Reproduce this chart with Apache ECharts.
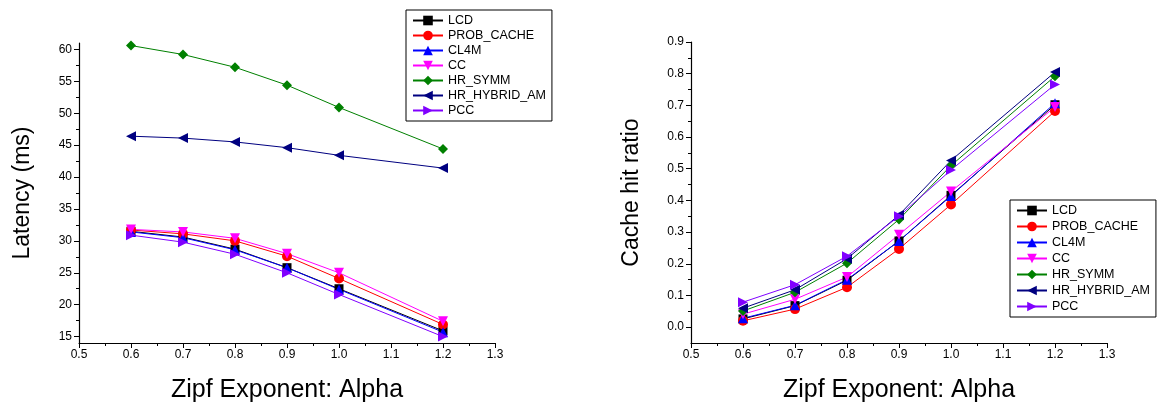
<!DOCTYPE html>
<html>
<head>
<meta charset="utf-8">
<script src="https://cdn.jsdelivr.net/npm/echarts@6/dist/echarts.min.js"></script>
<style>
  html, body { margin: 0; padding: 0; background: #fff; }
  #chart { width: 1161px; height: 408px; }
</style>
</head>
<body>
<div id="chart"></div>
<script>
// Zipf alpha values (x)
var alpha = [0.6, 0.7, 0.8, 0.9, 1.0, 1.2];

var names = ["LCD", "PROB_CACHE", "CL4M", "CC", "HR_SYMM", "HR_HYBRID_AM", "PCC"];

// latency (ms), left chart
var latLCD = [31.5, 30.6, 28.7, 25.8, 22.5, 15.9];
var latPROB = [31.7, 31.1, 30.0, 27.6, 24.1, 16.9];
var latCL4M = [31.4, 30.5, 28.6, 25.8, 22.4, 15.7];
var latCC = [31.8, 31.4, 30.4, 28.0, 25.0, 17.4];
var latSYMM = [60.6, 59.2, 57.2, 54.4, 50.9, 44.4];
var latHYBRID = [46.4, 46.1, 45.5, 44.6, 43.4, 41.4];
var latPCC = [30.9, 29.8, 27.9, 25.0, 21.6, 15.0];

// cache hit ratio, right chart
var hitLCD = [0.026, 0.068, 0.148, 0.272, 0.416, 0.702];
var hitPROB = [0.020, 0.057, 0.126, 0.247, 0.387, 0.682];
var hitCL4M = [0.028, 0.069, 0.150, 0.272, 0.414, 0.707];
var hitCC = [0.041, 0.088, 0.158, 0.292, 0.428, 0.695];
var hitSYMM = [0.051, 0.110, 0.202, 0.340, 0.510, 0.792];
var hitHYBRID = [0.060, 0.118, 0.216, 0.354, 0.526, 0.805];
var hitPCC = [0.079, 0.134, 0.224, 0.350, 0.496, 0.766];

// tick positions
var xTicks = [0.5, 0.6, 0.7, 0.8, 0.9, 1.0, 1.1, 1.2, 1.3];
var xMinor = [0.55, 0.65, 0.75, 0.85, 0.95, 1.05, 1.15, 1.25];
var latTicks = [15, 20, 25, 30, 35, 40, 45, 50, 55, 60];
var latMinor = [17.5, 22.5, 27.5, 32.5, 37.5, 42.5, 47.5, 52.5, 57.5];
var hitTicks = [0, 0.1, 0.2, 0.3, 0.4, 0.5, 0.6, 0.7, 0.8, 0.9];
var hitMinor = [0.05, 0.15, 0.25, 0.35, 0.45, 0.55, 0.65, 0.75, 0.85];

var colors = ["#000000", "#ff0000", "#0000ff", "#ff00ff", "#008000", "#000080", "#8000ff"];
var symbols = ["rect", "circle", "triangle", "triangle", "diamond", "triangle", "triangle"];
var rotates = [0, 0, 0, 180, 0, 90, -90];
var sizes = [9, 10, 10, 10, 10, 10, 10];

var latData = [latLCD, latPROB, latCL4M, latCC, latSYMM, latHYBRID, latPCC];
var hitData = [hitLCD, hitPROB, hitCL4M, hitCC, hitSYMM, hitHYBRID, hitPCC];

var font = "Liberation Sans, Arial, sans-serif";

function pairs(ys) {
    var out = [];
    for (var i = 0; i < alpha.length; i++) out.push([alpha[i], ys[i]]);
    return out;
}

function xAx(grid, minor) {
    return {
        type: "value", gridIndex: grid, min: 0.5, max: 1.3, position: "bottom",
        name: minor ? "" : "Zipf Exponent: Alpha",
        nameLocation: "middle", nameGap: 35,
        nameTextStyle: { fontFamily: font, fontSize: 25, color: "#000" },
        axisLine: { show: !minor, onZero: false, lineStyle: { color: "#000", width: 1.2 } },
        axisTick: { show: true, length: minor ? 3 : 5, customValues: minor ? xMinor : xTicks, lineStyle: { color: "#000" } },
        axisLabel: {
            show: !minor, customValues: xTicks, margin: 6, fontFamily: font, fontSize: 12, color: "#000",
            formatter: function (v) { return v.toFixed(1); }
        },
        splitLine: { show: false }
    };
}

function yAx(grid, minor, min, max, ticks, minors, label, gap, dec) {
    return {
        type: "value", gridIndex: grid, min: min, max: max, position: "left",
        name: minor ? "" : label,
        nameLocation: "middle", nameGap: gap,
        nameTextStyle: { fontFamily: font, fontSize: 23, color: "#000" },
        axisLine: { show: !minor, onZero: false, lineStyle: { color: "#000", width: 1.2 } },
        axisTick: { show: true, length: minor ? 3 : 5, customValues: minor ? minors : ticks, lineStyle: { color: "#000" } },
        axisLabel: {
            show: !minor, customValues: ticks, margin: 7, fontFamily: font, fontSize: 12, color: "#000",
            formatter: function (v) { return v.toFixed(dec); }
        },
        splitLine: { show: false }
    };
}

var series = [];
for (var k = 0; k < names.length; k++) {
    [0, 1].forEach(function (g) {
        series.push({
            name: names[k], type: "line",
            xAxisIndex: g * 2, yAxisIndex: g * 2,
            data: pairs(g === 0 ? latData[k] : hitData[k]),
            symbol: symbols[k], symbolSize: sizes[k], symbolRotate: rotates[k],
            color: colors[k],
            lineStyle: { width: 1, color: colors[k] },
            itemStyle: { color: colors[k] },
            animation: false
        });
    });
}

function legendAt(left, top, gap) {
    return {
        data: names, orient: "vertical", left: left, top: top,
        itemWidth: 30, itemHeight: 12, itemGap: gap,
        padding: [4, 6, 4, 6],
        borderColor: "#000", borderWidth: 1, backgroundColor: "#fff",
        selectedMode: false,
        textStyle: { fontFamily: font, fontSize: 12.5, color: "#000" }
    };
}

var chart = echarts.init(document.getElementById("chart"));
chart.setOption({
    animation: false,
    backgroundColor: "#fff",
    grid: [
        { left: 79, right: 666, top: 43, bottom: 61 },
        { left: 691, right: 54, top: 42, bottom: 61 }
    ],
    xAxis: [xAx(0, false), xAx(0, true), xAx(1, false), xAx(1, true)],
    yAxis: [
        yAx(0, false, 14, 61, latTicks, latMinor, "Latency (ms)", 45, 0),
        yAx(0, true, 14, 61, latTicks, latMinor, "", 0, 0),
        yAx(1, false, -0.05, 0.9, hitTicks, hitMinor, "Cache hit ratio", 48, 1),
        yAx(1, true, -0.05, 0.9, hitTicks, hitMinor, "", 0, 1)
    ],
    legend: [legendAt(406, 10, 2), legendAt(1010, 200, 3)],
    series: series
});
</script>
</body>
</html>
